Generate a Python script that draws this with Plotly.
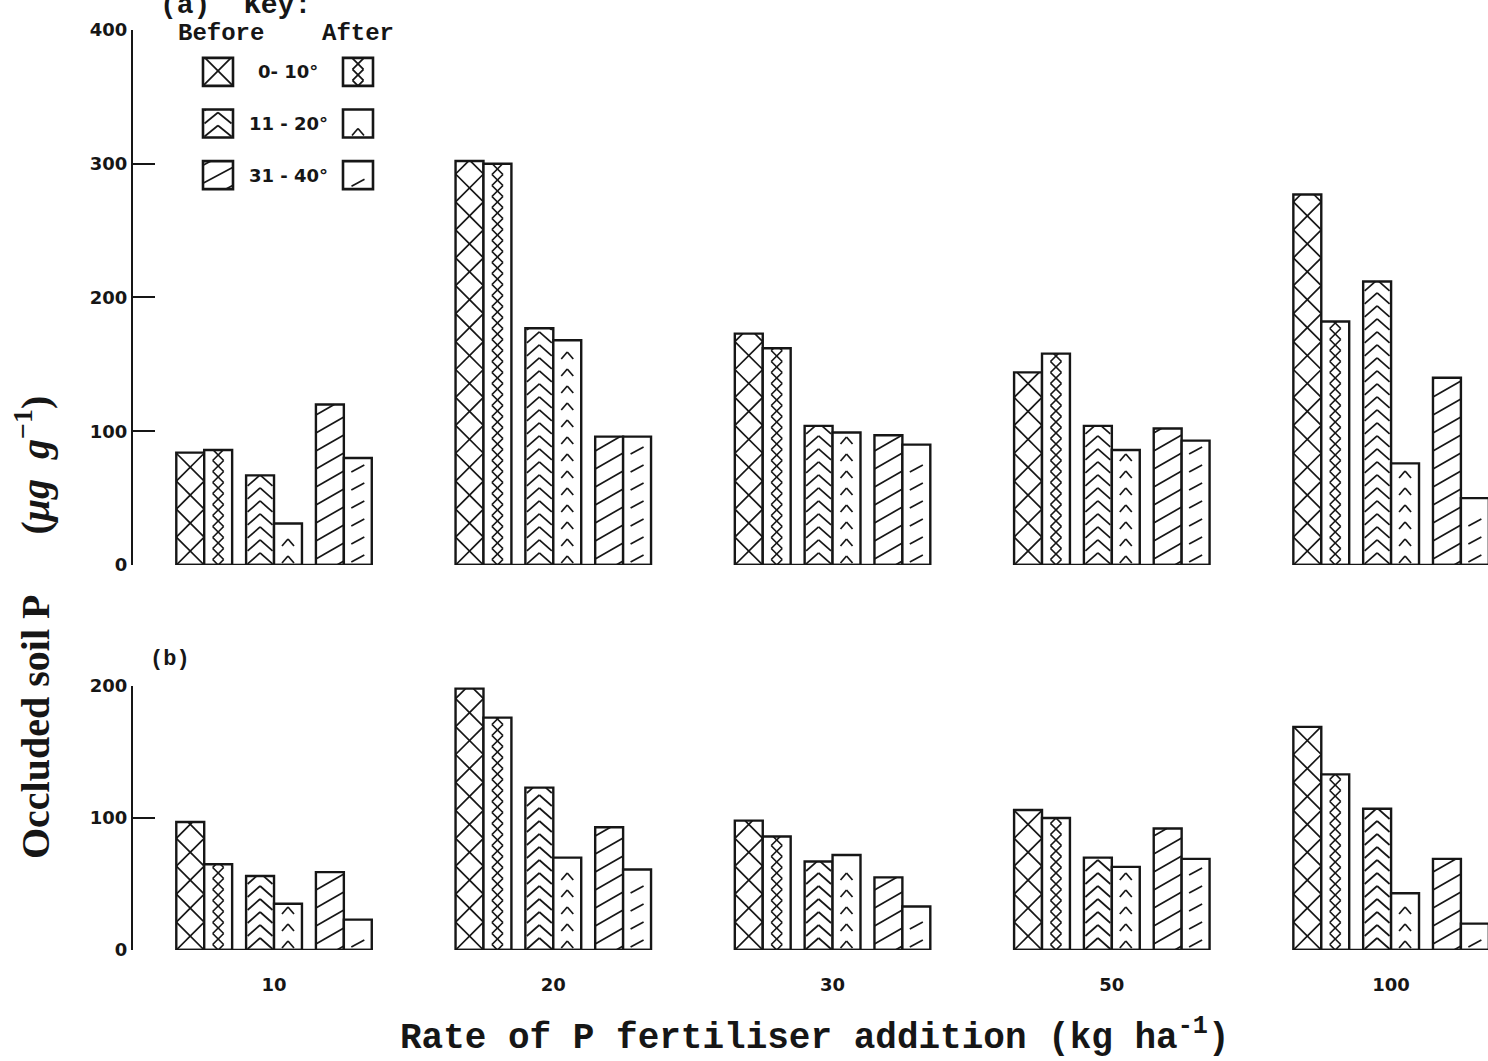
import numpy as np
import plotly.graph_objects as go

# ---------------------------------------------------------------- data
rates = ["10", "20", "30", "50", "100"]
slope_labels = ["0- 10°", "11 - 20°", "31 - 40°"]

# (a) occluded soil P, ug/g
a_before_0_10 = [84, 302, 173, 144, 277]
a_after_0_10 = [86, 300, 162, 158, 182]
a_before_11_20 = [67, 177, 104, 104, 212]
a_after_11_20 = [31, 168, 99, 86, 76]
a_before_31_40 = [120, 96, 97, 102, 140]
a_after_31_40 = [80, 96, 90, 93, 50]

# (b) occluded soil P, ug/g
b_before_0_10 = [97, 198, 98, 106, 169]
b_after_0_10 = [65, 176, 86, 100, 133]
b_before_11_20 = [56, 123, 67, 70, 107]
b_after_11_20 = [35, 70, 72, 63, 43]
b_before_31_40 = [59, 93, 55, 92, 69]
b_after_31_40 = [23, 61, 33, 69, 20]

a_ticks = [0, 100, 200, 300, 400]
b_ticks = [0, 100, 200]

# ---------------------------------------------------------------- layout geometry
FIG_W, FIG_H = 1488, 1061
M_L, M_R, M_T, M_B = 133, 0, 30, 111
PLOT_W = FIG_W - M_L - M_R
PLOT_H = FIG_H - M_T - M_B

X_RANGE = [-0.505, 4.347]
PX_X = PLOT_W / (X_RANGE[1] - X_RANGE[0])

TOP_DOMAIN, TOP_RANGE = [0.4185, 1.0], [0, 400]
BOT_DOMAIN, BOT_RANGE = [0.0, 0.287], [0, 200]
PX_Y_TOP = PLOT_H * (TOP_DOMAIN[1] - TOP_DOMAIN[0]) / (TOP_RANGE[1] - TOP_RANGE[0])
PX_Y_BOT = PLOT_H * (BOT_DOMAIN[1] - BOT_DOMAIN[0]) / (BOT_RANGE[1] - BOT_RANGE[0])

BAR_W = 0.1
OFFSETS = [-0.30, -0.20, -0.05, 0.05, 0.20, 0.30]
TEXTURES = ["cross", "chain", "chevron", "chevron_small", "diag", "dash"]
INK = "#161616"


def px_to_paper_x(px):
    return (px - M_L) / PLOT_W


def px_to_paper_y(py):
    return (FIG_H - M_B - py) / PLOT_H


# key panel placement
KEY_X_DOM = [px_to_paper_x(148), px_to_paper_x(428)]
KEY_Y_DOM = [px_to_paper_y(201), px_to_paper_y(46)]
KEY_X_RANGE, KEY_Y_RANGE = [-0.5, 1.5], [-2.5, 0.5]
KEY_PX_X = PLOT_W * (KEY_X_DOM[1] - KEY_X_DOM[0]) / (KEY_X_RANGE[1] - KEY_X_RANGE[0])
KEY_PX_Y = PLOT_H * (KEY_Y_DOM[1] - KEY_Y_DOM[0]) / (KEY_Y_RANGE[1] - KEY_Y_RANGE[0])
KEY_BAR_W = 30 / KEY_PX_X
KEY_BAR_H = 28 / KEY_PX_Y


# ---------------------------------------------------------------- hatch textures
def clip_y(x0, y0, x1, y1, h):
    if y1 == y0:
        return (x0, y0, x1, y1) if 0 <= y0 <= h else None
    ta = (0 - y0) / (y1 - y0)
    tb = (h - y0) / (y1 - y0)
    t0 = max(0.0, min(ta, tb))
    t1 = min(1.0, max(ta, tb))
    if t1 <= t0:
        return None
    return (x0 + t0 * (x1 - x0), y0 + t0 * (y1 - y0),
            x0 + t1 * (x1 - x0), y0 + t1 * (y1 - y0))


def texture(kind, w, h):
    """Line segments (pixel units, bar-local) for one hatch style."""
    segs = []
    c = w / 2
    if kind == "cross":
        p = w
        for y in np.arange(0, h, p):
            segs += [(0, y, w, y + p), (w, y, 0, y + p)]
    elif kind == "chain":
        d, a = 11.0, 5.5
        for y in np.arange(0, h, d):
            segs += [(c, y, c + a, y + d / 2), (c + a, y + d / 2, c, y + d),
                     (c, y, c - a, y + d / 2), (c - a, y + d / 2, c, y + d)]
    elif kind == "chevron":
        d, r = 13.0, 11.0
        for y in np.arange(1, h, d):
            segs += [(1.5, y, c, y + r), (c, y + r, w - 1.5, y)]
    elif kind == "chevron_small":
        d, r, a = 17.0, 7.0, 6.0
        for y in np.arange(2, h - r - 2, d):
            segs += [(c - a, y, c, y + r), (c, y + r, c + a, y)]
    elif kind == "diag":
        d, r = 18.0, 16.0
        for y in np.arange(-r + 4, h, d):
            segs.append((0, y, w, y + r))
    elif kind == "dash":
        d, r, a = 18.0, 7.0, 6.5
        for y in np.arange(3, h - r - 3, d):
            segs.append((c - a, y, c + a, y + r))
    out = []
    for s in segs:
        cs = clip_y(*s, h)
        if cs:
            out.append(cs)
    return out


def texture_trace(kind, centers, bases, heights, px_x, px_y, bar_w, xa, ya):
    xs, ys = [], []
    w_px = bar_w * px_x
    for xc, b, v in zip(centers, bases, heights):
        left = xc - bar_w / 2
        for x0, y0, x1, y1 in texture(kind, w_px, v * px_y):
            xs += [left + x0 / px_x, left + x1 / px_x, None]
            ys += [b + y0 / px_y, b + y1 / px_y, None]
    return go.Scatter(x=xs, y=ys, mode="lines", line=dict(color=INK, width=1.7),
                      xaxis=xa, yaxis=ya, hoverinfo="skip", showlegend=False)


# ---------------------------------------------------------------- figure
fig = go.Figure()

panels = [
    ("x", "y", PX_Y_TOP, [a_before_0_10, a_after_0_10, a_before_11_20,
                          a_after_11_20, a_before_31_40, a_after_31_40]),
    ("x2", "y2", PX_Y_BOT, [b_before_0_10, b_after_0_10, b_before_11_20,
                            b_after_11_20, b_before_31_40, b_after_31_40]),
]

groups = np.arange(len(rates))
for xa, ya, px_y, series in panels:
    # baseline under each group of bars
    bx, by = [], []
    for g in groups:
        bx += [g + OFFSETS[0] - BAR_W / 2, g + OFFSETS[-1] + BAR_W / 2, None]
        by += [0, 0, None]
    fig.add_trace(go.Scatter(x=bx, y=by, mode="lines", line=dict(color=INK, width=2.4),
                             xaxis=xa, yaxis=ya, hoverinfo="skip", showlegend=False))
    for k, vals in enumerate(series):
        centers = groups + OFFSETS[k]
        fig.add_trace(go.Bar(
            x=centers, y=vals, width=BAR_W, xaxis=xa, yaxis=ya, showlegend=False,
            marker=dict(color="white", line=dict(color=INK, width=2.4)),
        ))
        fig.add_trace(texture_trace(TEXTURES[k], centers, [0] * len(vals), vals,
                                    PX_X, px_y, BAR_W, xa, ya))

# key swatches: rows = slope classes, columns = before / after
for r in range(len(slope_labels)):
    for col in range(2):
        kind = TEXTURES[2 * r + col]
        base = -r - KEY_BAR_H / 2
        fig.add_trace(go.Bar(
            x=[col], y=[KEY_BAR_H], base=[base], width=KEY_BAR_W,
            xaxis="x3", yaxis="y3", showlegend=False,
            marker=dict(color="white", line=dict(color=INK, width=2.6)),
        ))
        fig.add_trace(texture_trace(kind, [col], [base], [KEY_BAR_H],
                                    KEY_PX_X, KEY_PX_Y, KEY_BAR_W, "x3", "y3"))

tick_font = dict(family="DejaVu Sans", size=18, color=INK, weight="bold")
mono = "Liberation Mono, Courier New, monospace"

yaxis_common = dict(showline=True, linewidth=2.2, linecolor=INK, ticks="inside",
                    ticklen=22, tickwidth=2.2, tickcolor=INK, showgrid=False,
                    zeroline=False, tickfont=tick_font, fixedrange=True)

fig.update_layout(
    width=FIG_W, height=FIG_H,
    margin=dict(l=M_L, r=M_R, t=M_T, b=M_B),
    paper_bgcolor="white", plot_bgcolor="rgba(0,0,0,0)",
    barmode="overlay", hovermode=False, showlegend=False,
    xaxis=dict(domain=[0, 1], range=X_RANGE, anchor="y", visible=False, fixedrange=True),
    yaxis=dict(domain=TOP_DOMAIN, range=TOP_RANGE, anchor="x", tickvals=a_ticks,
               **yaxis_common),
    xaxis2=dict(domain=[0, 1], range=X_RANGE, anchor="y2", matches="x",
                tickvals=list(groups), ticktext=rates, ticks="", showline=False,
                showgrid=False, zeroline=False, tickfont=tick_font,
                ticklabelstandoff=22, fixedrange=True),
    yaxis2=dict(domain=BOT_DOMAIN, range=BOT_RANGE, anchor="x2", tickvals=b_ticks,
                **yaxis_common),
    xaxis3=dict(domain=KEY_X_DOM, range=KEY_X_RANGE, anchor="y3", visible=False,
                fixedrange=True),
    yaxis3=dict(domain=KEY_Y_DOM, range=KEY_Y_RANGE, anchor="x3", visible=False,
                fixedrange=True),
)

annotations = [
    dict(text="<b>(a)  Key:</b>", x=px_to_paper_x(158), y=px_to_paper_y(6),
         xanchor="left", yanchor="middle",
         font=dict(family=mono, size=28, color=INK)),
    dict(text="<b>Before</b>", x=px_to_paper_x(221), y=px_to_paper_y(34),
         xanchor="center", yanchor="middle",
         font=dict(family=mono, size=24, color=INK)),
    dict(text="<b>After</b>", x=px_to_paper_x(358), y=px_to_paper_y(34),
         xanchor="center", yanchor="middle",
         font=dict(family=mono, size=24, color=INK)),
    dict(text="<b>(b)</b>", x=px_to_paper_x(148), y=px_to_paper_y(660),
         xanchor="left", yanchor="middle",
         font=dict(family=mono, size=22, color=INK)),
    dict(text="<b>Rate of P fertiliser addition (kg ha<sup>-1</sup>)</b>",
         x=px_to_paper_x(815), y=px_to_paper_y(1035),
         xanchor="center", yanchor="middle",
         font=dict(family=mono, size=36, color=INK)),
    dict(text="<b>Occluded soil P\u2003\u2002(<i>\u03bcg\u2002g</i><sup>\u22121</sup>)</b>",
         x=px_to_paper_x(32), y=px_to_paper_y(628), textangle=-90,
         xanchor="center", yanchor="middle",
         font=dict(family="Liberation Serif, serif", size=40, color=INK)),
]
for r, lab in enumerate(slope_labels):
    annotations.append(dict(text=lab, x=0.5, y=-r, xref="x3", yref="y3",
                            xanchor="center", yanchor="middle",
                            font=dict(family="DejaVu Sans", size=18, color=INK,
                                      weight="bold")))
for a in annotations:
    a.setdefault("xref", "paper")
    a.setdefault("yref", "paper")
    a["showarrow"] = False
fig.update_layout(annotations=annotations)

fig.write_html("out.html", config={"displayModeBar": False})
